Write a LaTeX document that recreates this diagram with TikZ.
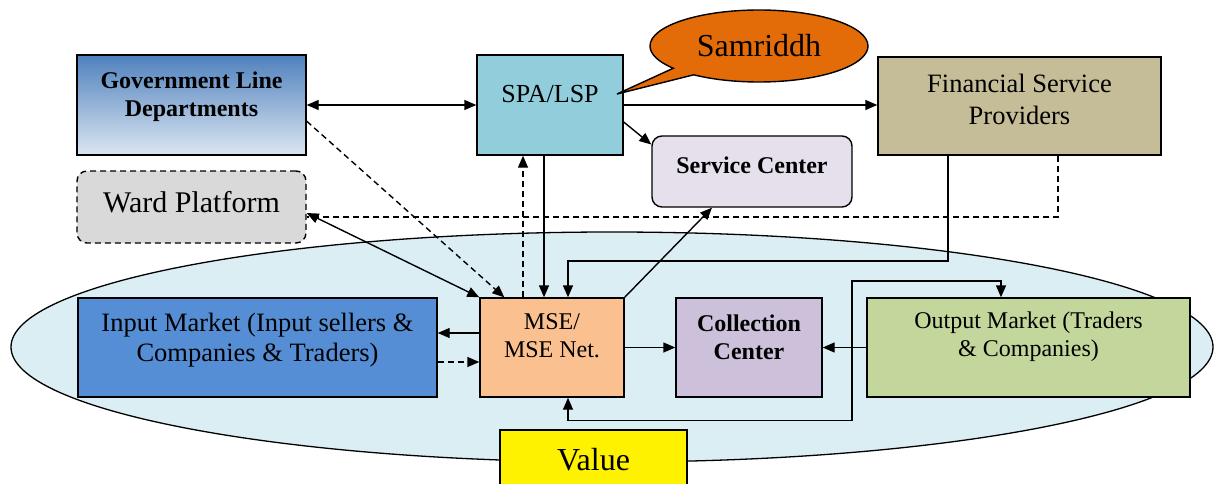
\documentclass[tikz,border=0pt]{standalone}
\usepackage{fontspec}
\setmainfont{Liberation Serif}
\usetikzlibrary{arrows.meta,shapes.callouts}
\definecolor{govtop}{HTML}{4F81BD}
\definecolor{govbot}{HTML}{DCE6F2}
\definecolor{wardgray}{HTML}{D9D9D9}
\definecolor{spablue}{HTML}{92CDDC}
\definecolor{samorange}{HTML}{E36C09}
\definecolor{fspbrown}{HTML}{C4BD97}
\definecolor{svclilac}{HTML}{E5E0EC}
\definecolor{ringblue}{HTML}{DAEEF3}
\definecolor{inblue}{HTML}{558ED5}
\definecolor{mseorange}{HTML}{FAC090}
\definecolor{collviolet}{HTML}{CCC0DA}
\definecolor{outgreen}{HTML}{C3D69B}
\begin{document}
\begin{tikzpicture}[x=1pt,y=-1pt,
    box/.style={draw, line width=1.4pt, align=center, inner sep=2pt, font=\fontsize{24}{28}\selectfont},
    boldbox/.style={box, font=\fontsize{24}{28}\selectfont\bfseries},
    arr/.style={line width=1.4pt, -{Triangle[length=12pt,width=10pt]}},
    both/.style={line width=1.4pt, {Triangle[length=12pt,width=10pt]}-{Triangle[length=12pt,width=10pt]}},
    dsh/.style={dash pattern=on 6pt off 4pt}]
\useasboundingbox (0,0) rectangle (1215,484);

% value chain ring
\draw[line width=1.3pt, fill=ringblue] (612,347) ellipse [x radius=601, y radius=115];

% top row
\node[boldbox, top color=govtop, bottom color=govbot, minimum width=229pt, minimum height=100pt, text depth=22pt] (gov) at (191.5,105) {Government Line\\Departments};
\node[box, dsh, rounded corners=10pt, fill=wardgray, minimum width=229pt, minimum height=72pt, text depth=10pt, font=\fontsize{30}{34}\selectfont] (ward) at (191.5,207) {Ward Platform};
\node[box, fill=spablue, minimum width=146pt, minimum height=100pt, text depth=22pt, font=\fontsize{26}{30}\selectfont] (spa) at (550,105) {SPA/LSP};
\node[box, fill=fspbrown, minimum width=283pt, minimum height=98pt, text depth=14pt, font=\fontsize{26.5}{32}\selectfont] (fsp) at (1019.5,106) {Financial Service\\Providers};
\node[boldbox, rounded corners=10pt, fill=svclilac, minimum width=200pt, minimum height=71pt, text depth=13pt] (svc) at (752,171.5) {Service Center};
\node[ellipse callout, draw, line width=1.4pt, fill=samorange, minimum width=218pt, minimum height=72pt, inner sep=2pt, callout absolute pointer={(617,94)}, font=\fontsize{32}{36}\selectfont] (sam) at (759,46) {Samriddh};

% inside the ring
\node[box, fill=inblue, minimum width=359pt, minimum height=99pt, text depth=21pt, font=\fontsize{26.5}{30}\selectfont] (input) at (257.5,347.5) {Input Market (Input sellers \&\\Companies \& Traders)};
\node[box, fill=mseorange, minimum width=144pt, minimum height=99pt, text depth=23pt] (mse) at (552,347.5) {MSE/\\MSE Net.};
\node[boldbox, fill=collviolet, minimum width=146pt, minimum height=99pt, text depth=21pt] (coll) at (749,347.5) {Collection\\Center};
\node[box, fill=outgreen, minimum width=323pt, minimum height=99pt, text depth=27pt] (out) at (1028.5,347.5) {Output Market (Traders\\\& Companies)};

% links
\draw[both] (gov.east) -- (spa.west);
\draw[arr] (spa.east) -- (spa.east -| fsp.west);
\draw[arr] (spa.-13) -- (svc.165);
\draw[arr, dsh] (gov.-8) -- ([xshift=25pt]mse.north west);
\draw[both] (ward.-3) -- (mse.north west);
\draw[line width=1.4pt, dsh] ([xshift=38.5pt]fsp.south) |- ([yshift=-10pt]ward.east);
\draw[arr, dsh] ([xshift=-29pt]mse.north) -- ([xshift=-29pt]mse.north |- spa.south);
\draw[arr] ([xshift=-8pt]mse.north |- spa.south) -- ([xshift=-8pt]mse.north);
\draw[arr] ([xshift=-71.5pt]fsp.south) |- (568,261) -- ([xshift=16pt]mse.north);
\draw[arr] (mse.north east) -- ([xshift=-40pt]svc.south);
\draw[arr] ([yshift=14.5pt]mse.west) -- ([yshift=14.5pt]input.east);
\draw[arr, dsh] ([yshift=-14.5pt]input.east) -- ([yshift=-14.5pt]mse.west);
\draw[arr] (mse.east) -- (coll.west);
\draw[arr] (out.west) -- (coll.east);
\draw[both] ([xshift=16pt]mse.south) -- ++(0,23) -| (852,281) -| ([xshift=-27.5pt]out.north);

\node[box, fill=yellow, minimum width=187pt, minimum height=60pt, font=\fontsize{32}{36}\selectfont] (value) at (593.5,460) {Value};
\end{tikzpicture}
\end{document}
